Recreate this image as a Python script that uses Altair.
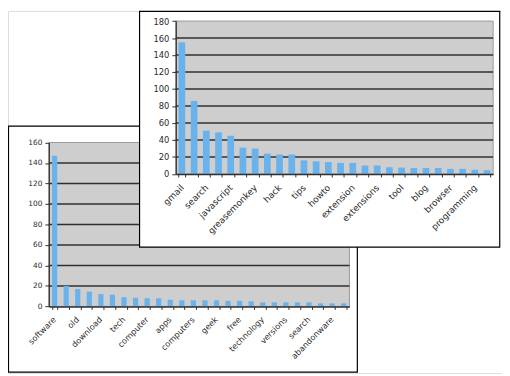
import json
import altair as alt
import pandas as pd

# ---------------- data ----------------
front_tags = ["gmail", "google", "search", "email", "javascript", "firefox", "greasemonkey",
              "userscript", "hack", "tools", "tips", "web2.0", "howto", "mail", "extension",
              "ajax", "extensions", "productivity", "tool", "reference", "blog", "webmail",
              "browser", "hacks", "programming", "internet"]
front_counts = [155, 86, 51, 49, 45, 31, 30, 24, 23, 23, 16, 15, 14, 13, 13,
                10, 10, 8, 7.5, 7, 7, 7, 6, 6, 5, 4.5]
front_shown = ["gmail", "search", "javascript", "greasemonkey", "hack", "tips", "howto",
               "extension", "extensions", "tool", "blog", "browser", "programming"]
front_ticks = [0, 20, 40, 60, 80, 100, 120, 140, 160, 180]
front_grid = [20, 40, 60, 80, 100, 120, 140, 160]

back_tags = ["software", "games", "old", "retro", "download", "windows", "tech", "freeware",
             "computer", "history", "apps", "dos", "computers", "archive", "geek", "programs",
             "free", "tools", "technology", "mac", "versions", "oldversion", "search",
             "downloads", "abandonware", "utilities"]
back_counts = [147, 20, 17, 14.5, 12, 11.5, 9, 8.5, 8, 8, 6.5, 6, 6, 6, 6, 5.5,
               5.5, 5, 4, 4, 4, 4, 4, 3, 3, 3]
back_shown = ["software", "old", "download", "tech", "computer", "apps", "computers", "geek",
              "free", "technology", "versions", "search", "abandonware"]
back_ticks = [0, 20, 40, 60, 80, 100, 120, 140, 160]
back_grid = [20, 40, 60, 80, 100, 120, 140]

# ---------------- layout (chart pixels) ----------------
W, H = 502, 368
B_FRAME = dict(x0=0.5, x1=355, y0=117, y1=367)
B_PLOT = dict(x0=41.5, x1=347, y0=133.7, y1=300.3)
F_FRAME = dict(x0=133.7, x1=499.7, y0=0.5, y1=240)
F_PLOT = dict(x0=170.5, x1=493, y0=10.3, y1=165.7)

BAR = "#6ab2ec"
PLOT_BG = "#cecece"
GRID = "#303030"
TEXT = "#2a2a2a"
FONT = "DejaVu Sans"


def rect(box, fill, stroke, sw):
    return alt.Chart(pd.DataFrame({"k": [0]})).mark_rect(
        fill=fill, stroke=stroke, strokeWidth=sw
    ).encode(
        x=alt.value(box["x0"]), x2=alt.value(box["x1"]),
        y=alt.value(box["y0"]), y2=alt.value(box["y1"]),
    )


def panel(tags, counts, shown, ticks, grid, frame, plot, xfs, yfs, pad):
    ymax = ticks[-1]
    df = pd.DataFrame({"tag": tags, "count": counts})
    xs = alt.Scale(domain=tags, range=[plot["x0"], plot["x1"]],
                   paddingInner=pad, paddingOuter=pad / 2)
    ys = alt.Scale(domain=[0, ymax], range=[plot["y1"], plot["y0"]], nice=False, zero=True)
    fr = rect(frame, "white", "black", 1.2)
    bg = rect(plot, PLOT_BG, "#9a9a9a", 1)
    gr = alt.Chart(pd.DataFrame({"v": grid})).mark_rule(
        color=GRID, strokeWidth=1.6
    ).encode(
        y=alt.Y("v:Q", scale=ys, axis=None),
        x=alt.value(plot["x0"]), x2=alt.value(plot["x1"]),
    )
    label_expr = "indexof(" + json.dumps(shown) + ", datum.value) >= 0 ? datum.value : ''"
    bars = alt.Chart(df).mark_bar(color=BAR).encode(
        x=alt.X("tag:N", sort=tags, scale=xs, axis=alt.Axis(
            orient="bottom", offset=plot["y1"] - H, title=None,
            labelExpr=label_expr, labelAngle=-45, labelAlign="right",
            labelBaseline="middle", labelPadding=9, labelFont=FONT,
            labelFontSize=xfs, labelColor=TEXT, labelOverlap=False,
            tickBand="extent", tickSize=3, tickColor=GRID, tickWidth=1,
            domainColor=GRID, domainWidth=1.6, grid=False, zindex=1)),
        y=alt.Y("count:Q", scale=ys, axis=alt.Axis(
            orient="left", offset=-plot["x0"], title=None, values=ticks,
            labelFont=FONT, labelFontSize=yfs, labelColor=TEXT, labelPadding=3,
            tickSize=4, tickColor=GRID, tickWidth=1, domainColor=GRID,
            domainWidth=1.2, grid=False, zindex=1)),
    )
    return [fr, bg, gr, bars]


back_layers = panel(back_tags, back_counts, back_shown, back_ticks, back_grid,
                    B_FRAME, B_PLOT, 8.3, 7.5, 0.55)
front_layers = panel(front_tags, front_counts, front_shown, front_ticks, front_grid,
                     F_FRAME, F_PLOT, 9, 8.5, 0.45)

chart = alt.layer(*back_layers, *front_layers).resolve_scale(
    x="independent", y="independent"
).resolve_axis(
    x="independent", y="independent"
).properties(
    width=W, height=H, padding=0, autosize=alt.AutoSizeParams(type="none")
).configure_view(stroke=None).configure(background="white")

chart.save("out.html", embed_options={"renderer": "svg", "actions": False})
